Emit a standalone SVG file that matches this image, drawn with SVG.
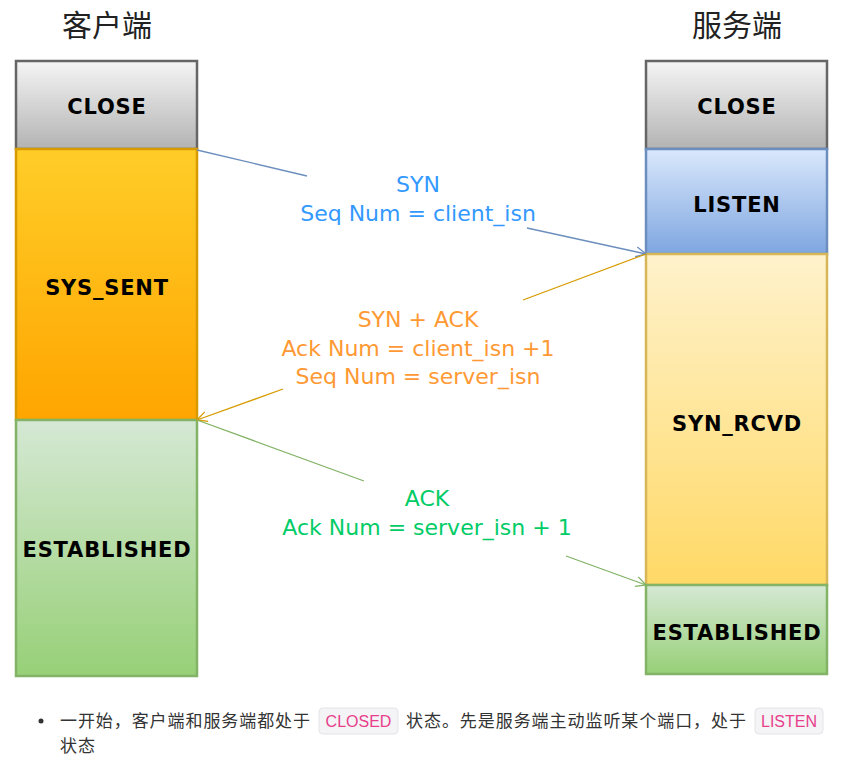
<svg xmlns="http://www.w3.org/2000/svg" width="867" height="758" viewBox="0 0 867 758">
<style>
.title{font-family:"Noto Sans CJK SC","Noto Sans",sans-serif;font-size:30px;fill:#222;text-anchor:middle}
.st{font-family:"Comic Sans MS","DejaVu Sans",sans-serif;font-weight:bold;font-size:21px;letter-spacing:0.8px;fill:#000;text-anchor:middle;dominant-baseline:central}
.msg{font-family:"Comic Sans MS","DejaVu Sans",sans-serif;font-size:22px;text-anchor:middle;dominant-baseline:central}
.box{stroke-width:2.5}
.note{font-family:"Noto Sans CJK SC","Noto Sans",sans-serif;font-size:17px;fill:#333}
.code{font-family:"Liberation Sans","Noto Sans",sans-serif;font-size:16px;fill:#e83e8c;text-anchor:middle}
.chip{fill:#f4f4f6;stroke:#e4e4e8;stroke-width:1}
</style>
<defs>
<linearGradient id="gClose" x1="0" y1="0" x2="0" y2="1"><stop offset="0" stop-color="#f5f5f5"/><stop offset="1" stop-color="#b3b3b3"/></linearGradient>
<linearGradient id="gOrange" x1="0" y1="0" x2="0" y2="1"><stop offset="0" stop-color="#ffcd28"/><stop offset="1" stop-color="#ffa500"/></linearGradient>
<linearGradient id="gBlue" x1="0" y1="0" x2="0" y2="1"><stop offset="0" stop-color="#dae8fc"/><stop offset="1" stop-color="#7ea6e0"/></linearGradient>
<linearGradient id="gYellow" x1="0" y1="0" x2="0" y2="1"><stop offset="0" stop-color="#fff2cc"/><stop offset="1" stop-color="#ffd966"/></linearGradient>
<linearGradient id="gGreen" x1="0" y1="0" x2="0" y2="1"><stop offset="0" stop-color="#d5e8d4"/><stop offset="1" stop-color="#97d077"/></linearGradient>
<marker id="aBlue" viewBox="0 0 12 12" refX="11" refY="6" markerWidth="12" markerHeight="12" markerUnits="userSpaceOnUse" orient="auto"><path d="M1,1 L11,6 L1,11" fill="none" stroke="#6c8ebf" stroke-width="1.3"/></marker>
<marker id="aOrange" viewBox="0 0 12 12" refX="11" refY="6" markerWidth="12" markerHeight="12" markerUnits="userSpaceOnUse" orient="auto"><path d="M1,1 L11,6 L1,11" fill="none" stroke="#d79b00" stroke-width="1.3"/></marker>
<marker id="aGreen" viewBox="0 0 12 12" refX="11" refY="6" markerWidth="12" markerHeight="12" markerUnits="userSpaceOnUse" orient="auto"><path d="M1,1 L11,6 L1,11" fill="none" stroke="#82b366" stroke-width="1.3"/></marker>
</defs>
<rect width="867" height="758" fill="#fff"/>

<text class="title" x="107" y="36">客户端</text>
<text class="title" x="737" y="36">服务端</text>

<g id="client-close"><rect class="box" x="16" y="61" width="181" height="88" fill="url(#gClose)" stroke="#666"/><text class="st" x="107" y="107">CLOSE</text></g>
<g id="client-syssent"><rect class="box" x="16" y="149" width="181" height="271" fill="url(#gOrange)" stroke="#d79b00"/><text class="st" x="107" y="288">SYS_SENT</text></g>
<g id="client-established"><rect class="box" x="16" y="420" width="181" height="256" fill="url(#gGreen)" stroke="#82b366"/><text class="st" x="107" y="550">ESTABLISHED</text></g>

<g id="server-close"><rect class="box" x="646" y="61" width="181" height="88" fill="url(#gClose)" stroke="#666"/><text class="st" x="737" y="107">CLOSE</text></g>
<g id="server-listen"><rect class="box" x="646" y="149" width="181" height="105" fill="url(#gBlue)" stroke="#6c8ebf"/><text class="st" x="737" y="205">LISTEN</text></g>
<g id="server-synrcvd"><rect class="box" x="646" y="254" width="181" height="331" fill="url(#gYellow)" stroke="#d6b656"/><text class="st" x="737" y="424">SYN_RCVD</text></g>
<g id="server-established"><rect class="box" x="646" y="585" width="181" height="89" fill="url(#gGreen)" stroke="#82b366"/><text class="st" x="737" y="633">ESTABLISHED</text></g>

<g id="connectors" fill="none" stroke-width="1.3">
<path d="M197,150 L307,176" stroke="#6c8ebf"/>
<path d="M527,228 L646,254" stroke="#6c8ebf" marker-end="url(#aBlue)"/>
<path d="M646,254 L523,300" stroke="#d79b00"/>
<path d="M283,389 L197,420" stroke="#d79b00" marker-end="url(#aOrange)"/>
<path d="M197,420 L364,481" stroke="#82b366"/>
<path d="M566,556 L646,585" stroke="#82b366" marker-end="url(#aGreen)"/>
</g>

<g id="labels">
<text class="msg" x="418" y="184" fill="#3399ff">SYN</text>
<text class="msg" x="418" y="213" fill="#3399ff">Seq Num = client_isn</text>
<text class="msg" x="418" y="319" fill="#ff9933">SYN + ACK</text>
<text class="msg" x="418" y="348" fill="#ff9933">Ack Num =  client_isn +1</text>
<text class="msg" x="418" y="376" fill="#ff9933">Seq Num = server_isn</text>
<text class="msg" x="427" y="498" fill="#00cc66">ACK</text>
<text class="msg" x="427" y="527" fill="#00cc66">Ack Num = server_isn + 1</text>
</g>

<g id="note">
<circle cx="41" cy="721" r="2.5" fill="#333"/>
<text class="note" x="60" y="727" textLength="250" lengthAdjust="spacing">一开始，客户端和服务端都处于</text>
<rect class="chip" x="319" y="708" width="79" height="26" rx="4"/>
<text class="code" x="358.5" y="727">CLOSED</text>
<text class="note" x="406" y="727" textLength="340" lengthAdjust="spacing">状态。先是服务端主动监听某个端口，处于</text>
<rect class="chip" x="755" y="708" width="68" height="26" rx="4"/>
<text class="code" x="789" y="727">LISTEN</text>
<text class="note" x="60" y="752" textLength="35" lengthAdjust="spacing">状态</text>
</g>
</svg>
